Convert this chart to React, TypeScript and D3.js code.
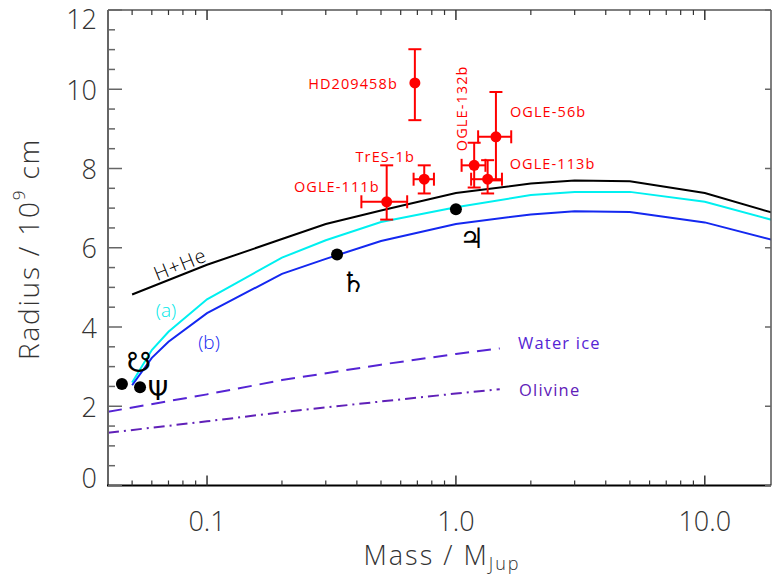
import React from "react";
import * as d3 from "d3";

// ---------- data ----------
const hheMass = [0.05, 0.1, 0.2, 0.3, 0.5, 1, 2, 3, 5, 10, 20];
const hheRadius = [4.82, 5.57, 6.22, 6.6, 6.94, 7.38, 7.62, 7.7, 7.68, 7.38, 6.83];

const modelMass = [0.05, 0.06, 0.07, 0.1, 0.2, 0.3, 0.5, 1, 2, 3, 5, 10, 20];
const modelARadius = [2.6, 3.42, 3.88, 4.7, 5.75, 6.19, 6.65, 7.02, 7.33, 7.41, 7.41, 7.16, 6.65];
const modelBRadius = [2.53, 3.22, 3.63, 4.35, 5.34, 5.72, 6.17, 6.6, 6.84, 6.92, 6.9, 6.64, 6.15];

const iceMass = [0.04, 0.1, 0.2, 0.5, 1, 1.5];
const iceRadius = [1.86, 2.3, 2.66, 3.05, 3.32, 3.46];
const olivineMass = [0.04, 0.1, 0.2, 0.5, 1, 1.5];
const olivineRadius = [1.33, 1.62, 1.85, 2.12, 2.32, 2.43];

const planetNames = ["Uranus", "Neptune", "Saturn", "Jupiter"];
const planetSymbols = ["\u260B", "\u03A8", "\u2644", "\u2643"];
const planetMass = [0.0455, 0.0538, 0.333, 1.0];
const planetRadius = [2.56, 2.48, 5.83, 6.97];

const exoNames = ["HD209458b", "OGLE-56b", "OGLE-132b", "OGLE-113b", "TrES-1b", "OGLE-111b"];
const exoMass = [0.684, 1.448, 1.184, 1.341, 0.746, 0.527];
const exoMassErr = [0, 0.22, 0.13, 0.19, 0.07, 0.11];
const exoRadius = [10.16, 8.8, 8.08, 7.73, 7.73, 7.16];
const exoRadiusErrHi = [0.85, 1.13, 0.57, 0.48, 0.35, 0.92];
const exoRadiusErrLo = [0.94, 1.1, 0.56, 0.36, 0.36, 0.45];

const xMajorTicks = [0.1, 1, 10];
const xMajorLabels = ["0.1", "1.0", "10.0"];
const xMinorTicks = [0.05, 0.06, 0.07, 0.08, 0.09, 0.2, 0.3, 0.4, 0.5, 0.6, 0.7, 0.8, 0.9, 2, 3, 4, 5, 6, 7, 8, 9];
const yMajorTicks = [0, 2, 4, 6, 8, 10, 12];

// ---------- layout ----------
const W = 772;
const H = 575;
const L = 108;
const R = 771;
const T = 10;
const B = 485.5;

const FONT = "'Open Sans', 'Liberation Sans', Arial, sans-serif";

// label placement relative to the points (layout only)
const exoLabelLayout = [
  { dx: -17, dy: 1, anchor: "end", rot: 0 },
  { dx: 14, dy: -25, anchor: "start", rot: 0 },
  { dx: -12.6, dy: -57, anchor: "middle", rot: -90 },
  { dx: 22, dy: -16, anchor: "start", rot: 0 },
  { dx: -39, dy: -23, anchor: "middle", rot: 0 },
  { dx: -7, dy: -15, anchor: "end", rot: 0 },
];
const planetSymbolLayout = [
  { dx: 17, dy: -22, size: 28 },
  { dx: 18, dy: 4, size: 26 },
  { dx: 16, dy: 28, size: 28 },
  { dx: 16, dy: 29, size: 28 },
];

export default function App() {
  const x = d3.scaleLog().domain([0.04, 18.45]).range([L, R]);
  const y = d3.scaleLinear().domain([0, 12]).range([B, T]);
  const line = d3
    .line<[number, number]>()
    .x((d) => x(d[0]))
    .y((d) => y(d[1]));

  const zip = (a: number[], b: number[]) => a.map((m, i) => [m, b[i]] as [number, number]);

  const yMinor = d3.range(0.5, 12, 0.5).filter((v) => v % 2 !== 0);

  const red = "#ff0000";

  return (
    <svg
      width={W}
      height={H}
      style={{ position: "absolute", left: 0, top: 0, background: "#fff" }}
      fontFamily={FONT}
    >
      <defs>
        <clipPath id="plotclip">
          <rect x={L} y={T} width={R - L} height={B - T} />
        </clipPath>
      </defs>

      {/* model curves */}
      <g clipPath="url(#plotclip)" fill="none" strokeWidth={2}>
        <path d={line(zip(hheMass, hheRadius)) || ""} stroke="#000" />
        <path d={line(zip(modelMass, modelARadius)) || ""} stroke="#00f0f0" />
        <path d={line(zip(modelMass, modelBRadius)) || ""} stroke="#1428f0" />
        <path d={line(zip(iceMass, iceRadius)) || ""} stroke="#5524d4" strokeDasharray="14,8" />
        <path d={line(zip(olivineMass, olivineRadius)) || ""} stroke="#6020b8" strokeDasharray="11,5,2,5" />
      </g>

      {/* curve labels */}
      <text
        x={180}
        y={264}
        fontSize={20}
        fontWeight={300}
        textAnchor="middle"
        dominantBaseline="central"
        transform="rotate(-22 180 264)"
        fill="#000"
        letterSpacing={1}
      >
        H+He
      </text>
      <text x={166} y={310} fontSize={19} fontWeight={300} textAnchor="middle" dominantBaseline="central" fill="#00e8e8">
        (a)
      </text>
      <text x={209} y={342} fontSize={19} fontWeight={300} textAnchor="middle" dominantBaseline="central" fill="#1428f0">
        (b)
      </text>
      <text x={518} y={342} fontSize={16.5} dominantBaseline="central" fill="#5524d4" letterSpacing={1.2}>
        Water ice
      </text>
      <text x={519} y={389} fontSize={16.5} dominantBaseline="central" fill="#6020b8" letterSpacing={1.2}>
        Olivine
      </text>

      {/* solar system planets */}
      {planetNames.map((n, i) => {
        const cx = x(planetMass[i]);
        const cy = y(planetRadius[i]);
        const lay = planetSymbolLayout[i];
        return (
          <g key={n}>
            <circle cx={cx} cy={cy} r={6} fill="#000" />
            <text
              x={cx + lay.dx}
              y={cy + lay.dy}
              fontSize={lay.size}
              textAnchor="middle"
              dominantBaseline="central"
              fontFamily="'DejaVu Sans', serif"
              fill="#000"
            >
              {planetSymbols[i]}
            </text>
          </g>
        );
      })}

      {/* exoplanets */}
      {exoNames.map((n, i) => {
        const cx = x(exoMass[i]);
        const cy = y(exoRadius[i]);
        const yTop = y(exoRadius[i] + exoRadiusErrHi[i]);
        const yBot = y(exoRadius[i] - exoRadiusErrLo[i]);
        const hasX = exoMassErr[i] > 0;
        const xl = hasX ? x(exoMass[i] - exoMassErr[i]) : cx;
        const xr = hasX ? x(exoMass[i] + exoMassErr[i]) : cx;
        const lay = exoLabelLayout[i];
        const lx = cx + lay.dx;
        const ly = cy + lay.dy;
        const cap = 6.5;
        return (
          <g key={n} stroke={red} strokeWidth={2}>
            <line x1={cx} x2={cx} y1={yTop} y2={yBot} />
            <line x1={cx - cap} x2={cx + cap} y1={yTop} y2={yTop} />
            <line x1={cx - cap} x2={cx + cap} y1={yBot} y2={yBot} />
            {hasX && (
              <>
                <line x1={xl} x2={xr} y1={cy} y2={cy} />
                <line x1={xl} x2={xl} y1={cy - cap} y2={cy + cap} />
                <line x1={xr} x2={xr} y1={cy - cap} y2={cy + cap} />
              </>
            )}
            <circle cx={cx} cy={cy} r={5.5} fill={red} stroke="none" />
            <text
              x={lx}
              y={ly}
              stroke="none"
              fill={red}
              fontSize={14.5}
              letterSpacing={1.1}
              textAnchor={lay.anchor}
              dominantBaseline="central"
              transform={lay.rot ? `rotate(${lay.rot} ${lx} ${ly})` : undefined}
            >
              {n}
            </text>
          </g>
        );
      })}

      {/* frame */}
      <line x1={L} x2={L} y1={T} y2={B} stroke="#666" strokeWidth={2} />
      <line x1={L} x2={R} y1={T} y2={T} stroke="#555" strokeWidth={1.5} />
      <line x1={R} x2={R} y1={T} y2={B} stroke="#555" strokeWidth={1.5} />
      <line x1={L - 1} x2={R} y1={B} y2={B} stroke="#000" strokeWidth={2} />

      {/* x ticks */}
      {xMajorTicks.map((t) => (
        <g key={"xM" + t} stroke="#333" strokeWidth={1.5}>
          <line x1={x(t)} x2={x(t)} y1={B} y2={B - 10} />
          <line x1={x(t)} x2={x(t)} y1={T} y2={T + 10} />
        </g>
      ))}
      {xMinorTicks.map((t) => (
        <g key={"xm" + t} stroke="#333" strokeWidth={1.2}>
          <line x1={x(t)} x2={x(t)} y1={B} y2={B - 5} />
          <line x1={x(t)} x2={x(t)} y1={T} y2={T + 5} />
        </g>
      ))}
      {xMajorTicks.map((t, i) => (
        <text
          key={"xl" + t}
          x={x(t)}
          y={531}
          fontSize={27}
          fontWeight={300}
          textAnchor="middle"
          fill="#333"
        >
          {xMajorLabels[i]}
        </text>
      ))}

      {/* y ticks */}
      {yMajorTicks.map((t) => (
        <g key={"yM" + t} stroke="#666" strokeWidth={1.5}>
          <line x1={L} x2={L + 14} y1={y(t)} y2={y(t)} />
          <line x1={R} x2={R - 6} y1={y(t)} y2={y(t)} />
        </g>
      ))}
      {yMinor.map((t) => (
        <line key={"ym" + t} x1={L} x2={L + 7} y1={y(t)} y2={y(t)} stroke="#666" strokeWidth={1.5} />
      ))}
      {yMajorTicks.map((t) => {
        const off = t === 0 ? -8 : t === 12 ? 8 : 0;
        return (
          <text
            key={"yl" + t}
            x={97}
            y={y(t) + off}
            fontSize={27}
            fontWeight={300}
            textAnchor="end"
            dominantBaseline="central"
            fill="#333"
          >
            {t}
          </text>
        );
      })}

      {/* axis titles */}
      <text
        x={28}
        y={249}
        fontSize={28}
        fontWeight={300}
        textAnchor="middle"
        dominantBaseline="central"
        fill="#333"
        letterSpacing={1.8}
        transform="rotate(-90 28 249)"
      >
        Radius / 10
        <tspan fontSize={17} dy={-10}>
          9
        </tspan>
        <tspan dy={10}> cm</tspan>
      </text>
      <text x={442} y={565} fontSize={27} fontWeight={300} textAnchor="middle" fill="#333" letterSpacing={2}>
        Mass / M
        <tspan fontSize={18} dy={5}>
          Jup
        </tspan>
      </text>
    </svg>
  );
}
